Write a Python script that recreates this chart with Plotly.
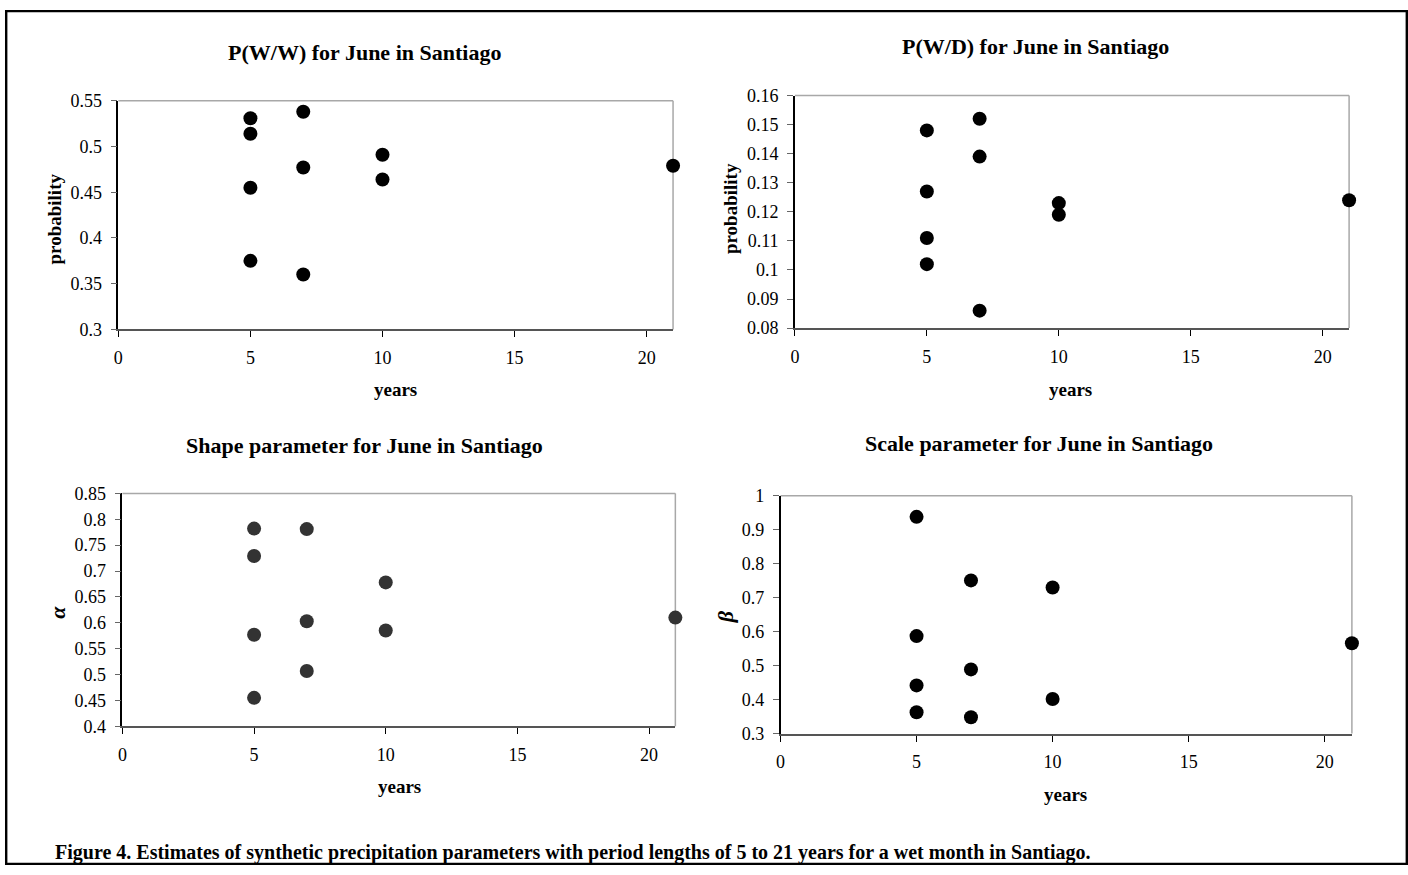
import plotly.graph_objects as go

# ---- data ----
ww_years = [5, 5, 5, 5, 7, 7, 7, 10, 10, 21]
ww_prob = [0.531, 0.514, 0.455, 0.375, 0.538, 0.477, 0.360, 0.491, 0.464, 0.479]

wd_years = [5, 5, 5, 5, 7, 7, 7, 10, 10, 21]
wd_prob = [0.148, 0.127, 0.111, 0.102, 0.152, 0.139, 0.086, 0.123, 0.119, 0.124]

shape_years = [5, 5, 5, 5, 7, 7, 7, 10, 10, 21]
shape_alpha = [0.782, 0.729, 0.577, 0.455, 0.781, 0.603, 0.507, 0.678, 0.585, 0.610]

scale_years = [5, 5, 5, 5, 7, 7, 7, 10, 10, 21]
scale_beta = [0.938, 0.587, 0.442, 0.363, 0.751, 0.489, 0.348, 0.730, 0.402, 0.566]

x_ticks = [0, 5, 10, 15, 20]

titles = ["P(W/W) for June in Santiago", "P(W/D) for June in Santiago",
          "Shape parameter for June in Santiago", "Scale parameter for June in Santiago"]
caption = ("Figure 4. Estimates of synthetic precipitation parameters with period "
           "lengths of 5 to 21 years for a wet month in Santiago.")

W, H = 1408, 875
FONT = "Liberation Serif"

# mapping from target picture pixels to paper fractions (compensates the capture offset)
AX, BX = 0.9986, 4.0
AY, BY = 0.979, 9.0

def px_x(p):
    r = (p - BX) / AX
    return min(max(r / W, 0.0), 1.0)

def px_y(p):
    r = (p - BY) / AY
    return min(max(1 - r / H, 0.0), 1.0)

# panel geometry in picture pixels: (left, right, top, bottom)
panels = [
    (117.6, 673.5, 100.0, 329.0),
    (795.6, 1351.0, 94.7, 327.7),
    (121.7, 675.8, 493.3, 726.7),
    (781.2, 1353.8, 495.7, 734.0),
]

series = [
    (ww_years, ww_prob, "black", [0.3, 0.55], 0.05),
    (wd_years, wd_prob, "black", [0.08, 0.16], 0.01),
    (shape_years, shape_alpha, "#333333", [0.4, 0.85], 0.05),
    (scale_years, scale_beta, "black", [0.3, 1.0], 0.1),
]

fig = go.Figure()
layout = dict(
    width=W, height=H, margin=dict(l=0, r=0, t=0, b=0),
    paper_bgcolor="white", plot_bgcolor="white", showlegend=False,
    font=dict(family=FONT, color="black", size=16),
)

shapes = []
for i, ((l, r, t, b), (xs, ys, col, yr, dt)) in enumerate(zip(panels, series)):
    n = "" if i == 0 else str(i + 1)
    fig.add_trace(go.Scatter(
        x=xs, y=ys, mode="markers", xaxis="x" + n, yaxis="y" + n,
        marker=dict(size=14, color=col), cliponaxis=False, hoverinfo="skip"))
    layout["xaxis" + n] = dict(
        domain=[px_x(l), px_x(r)], range=[0, 21], anchor="y" + n,
        tickvals=x_ticks, ticks="outside", ticklen=6, tickcolor="black",
        showline=True, linecolor="#555555", linewidth=2, showgrid=False,
        zeroline=False, tickfont=dict(family=FONT, size=18),
        ticklabelstandoff=5, fixedrange=True)
    layout["yaxis" + n] = dict(
        domain=[px_y(b), px_y(t)], range=yr, anchor="x" + n,
        dtick=dt, tick0=yr[0], ticks="outside", ticklen=6, tickcolor="#666666",
        showline=True, linecolor="black", linewidth=1.5, showgrid=False,
        zeroline=False, tickfont=dict(family=FONT, size=18),
        ticklabelstandoff=5, fixedrange=True)
    xr = "x" + n + " domain"
    yrf = "y" + n + " domain"
    shapes.append(dict(type="line", xref=xr, yref=yrf, x0=0, x1=1, y0=1, y1=1,
                       line=dict(color="#a8a8a8", width=1.5), layer="below"))
    shapes.append(dict(type="line", xref=xr, yref=yrf, x0=1, x1=1, y0=0, y1=1,
                       line=dict(color="#a8a8a8", width=1.5), layer="below"))

# outer frame (at the page edges)
shapes.append(dict(type="rect", xref="paper", yref="paper",
                   x0=1.2 / W, x1=1 - 1.2 / W, y0=1.2 / H, y1=1 - 1.2 / H,
                   line=dict(color="black", width=2.4)))
layout["shapes"] = shapes

ann = []
title_pos = [(364, 52), (1037, 46), (364, 445), (1040, 443)]
for txt, (cx, cy) in zip(titles, title_pos):
    ann.append(dict(text="<b>" + txt + "</b>", x=px_x(cx), y=px_y(cy), xref="paper", yref="paper",
                    showarrow=False, xanchor="center", yanchor="middle",
                    font=dict(family=FONT, size=22, color="black")))

years_pos = [(395, 389), (1072, 389), (399, 787), (1067, 795)]
for cx, cy in years_pos:
    ann.append(dict(text="<b>years</b>", x=px_x(cx), y=px_y(cy), xref="paper", yref="paper",
                    showarrow=False, xanchor="center", yanchor="middle",
                    font=dict(family=FONT, size=19, color="black")))

ytitles = [("<b>probability</b>", 54, 218, 19), ("<b>probability</b>", 731, 208, 19),
           ("<b><i>α</i></b>", 57, 612, 22), ("<b><i>β</i></b>", 726, 617, 22)]
for txt, cx, cy, fs in ytitles:
    ann.append(dict(text=txt, x=px_x(cx), y=px_y(cy), xref="paper", yref="paper",
                    showarrow=False, xanchor="center", yanchor="middle", textangle=-90,
                    font=dict(family=FONT, size=fs, color="black")))

ann.append(dict(text="<b>" + caption + "</b>", x=px_x(52), y=px_y(853), xref="paper", yref="paper",
                showarrow=False, xanchor="left", yanchor="middle",
                font=dict(family=FONT, size=20, color="black")))
layout["annotations"] = ann

fig.update_layout(**layout)
fig.write_html("out.html")
